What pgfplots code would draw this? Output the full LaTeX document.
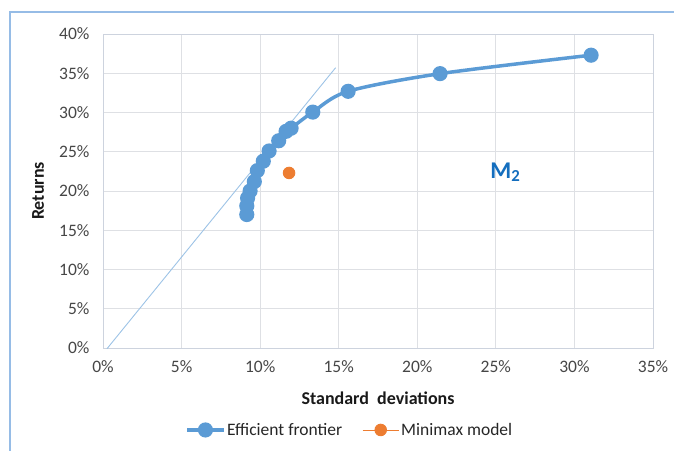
\documentclass[border=0pt]{standalone}
\usepackage{fontspec}
\setmainfont{Carlito}
\usepackage{pgfplots}
\pgfplotsset{compat=1.18}
\definecolor{serblue}{RGB}{91,155,213}
\definecolor{serorange}{RGB}{237,125,49}
\definecolor{tanblue}{RGB}{157,195,230}
\definecolor{gridgray}{RGB}{222,224,228}
\definecolor{axgray}{RGB}{205,211,222}
\definecolor{txtgray}{RGB}{70,70,70}
\definecolor{mblue}{RGB}{20,110,190}
\definecolor{framblue}{RGB}{150,188,230}
\begin{document}
\begin{tikzpicture}[x=1pt,y=1pt]
\path[use as bounding box] (0,0) rectangle (674,450);
\draw[framblue, line width=1.5pt] (10,-20) -- (10,438) -- (700,438);
\begin{axis}[at={(103pt,102pt)}, anchor=south west, scale only axis,
  width=550pt, height=314pt,
  xmin=0, xmax=35, ymin=0, ymax=40,
  xtick={0,5,...,35}, ytick={0,5,...,40},
  grid=major, major grid style={gridgray, line width=0.8pt},
  axis line style={axgray, line width=0.8pt},
  tick style={draw=none},
  xticklabel={\pgfmathprintnumber[assume math mode=true]{\tick}\%},
  yticklabel={\pgfmathprintnumber[assume math mode=true]{\tick}\%},
  ticklabel style={font=\fontsize{17.5}{19}\selectfont, text=txtgray},
  yticklabel style={xshift=-10pt},
  xticklabel style={yshift=-9pt},
  xlabel={Standard\ \ deviations}, ylabel={Returns},
  label style={font=\fontsize{18}{20}\selectfont\bfseries, text=black!90},
  xlabel style={at={(axis description cs:0.5,0)}, anchor=center, yshift=-50pt},
  ylabel style={at={(axis description cs:-0.118,0.5)}, anchor=center},
  legend style={at={(0.449,-0.261)}, anchor=center, draw=none, fill=none,
    legend columns=2, font=\fontsize{17.5}{19}\selectfont, text=black!85,
    /tikz/every even column/.append style={column sep=18pt}},
  legend image code/.code={\draw[mark repeat=2, mark phase=2, #1] plot coordinates {(0pt,0pt) (18pt,0pt) (36pt,0pt)};},
]
\addplot[tanblue, line width=0.9pt, forget plot] coordinates {(0.25,-0.1) (14.8,35.7)};
\addplot[serblue, line width=3.5pt, smooth, mark=*, mark size=5.8pt,
  mark options={solid, fill=serblue, draw=none}] coordinates {
(9.15,17.0) (9.15,18.1) (9.2,19.1) (9.36,20.0) (9.63,21.2) (9.82,22.6)
(10.2,23.8) (10.57,25.1) (11.18,26.4) (11.65,27.6) (11.97,28.0)
(13.35,30.05) (15.6,32.7) (21.45,34.95) (31.06,37.3)};
\addlegendentry{Efficient frontier}
\addplot[serorange, line width=0.9pt, mark=*, mark size=5.8pt,
  mark options={solid, fill=serorange, draw=none}] coordinates {(11.84,22.3)};
\addlegendentry{Minimax model}
\node[mblue, font=\fontsize{24}{26}\selectfont\bfseries] at (axis cs:25.6,22.4) {M\textsubscript{2}};
\end{axis}
\end{tikzpicture}
\end{document}
